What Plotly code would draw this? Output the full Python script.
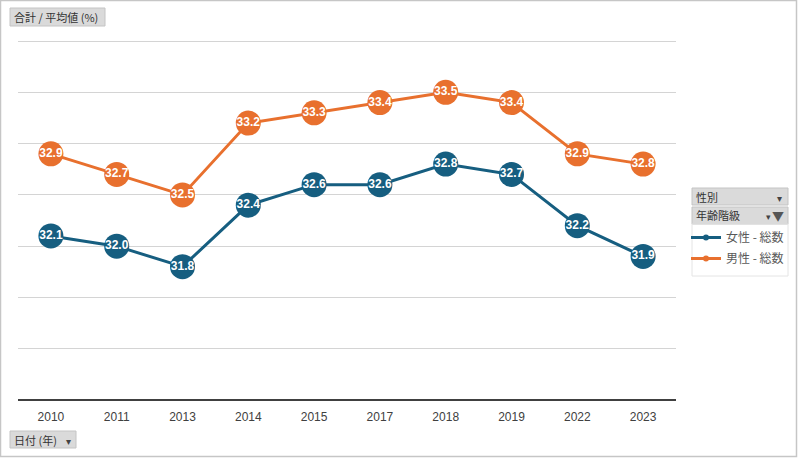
import plotly.graph_objects as go

# data
years = ["2010", "2011", "2013", "2014", "2015", "2017", "2018", "2019", "2022", "2023"]
female = [32.1, 32.0, 31.8, 32.4, 32.6, 32.6, 32.8, 32.7, 32.2, 31.9]
male = [32.9, 32.7, 32.5, 33.2, 33.3, 33.4, 33.5, 33.4, 32.9, 32.8]
series_names = ["女性 - 総数", "男性 - 総数"]
colors = ["#165e80", "#e8702e"]

W, H = 798, 458
L, R, T, B = 18, 676, 39, 400
YMIN, YMAX = 30.5, 34.02
JP = "Noto Sans CJK JP"


def px(x):
    return (x - L) / (R - L)


def py(y):
    return (B - y) / (B - T)


fig = go.Figure()
for name, vals, col in zip(series_names, [female, male], colors):
    fig.add_trace(go.Scatter(
        x=years, y=vals, name=name, legendgroup=name, showlegend=False,
        mode="lines+markers+text",
        text=[f"{v:.1f}" for v in vals],
        textposition="middle center",
        textfont=dict(family="Liberation Sans", size=12, color="white", weight="bold"),
        line=dict(color=col, width=3),
        marker=dict(color=col, size=25),
        cliponaxis=False,
        hoverinfo="skip",
    ))
    # legend entry only (small marker like the Excel legend)
    fig.add_trace(go.Scatter(
        x=[None], y=[None], name=name, legendgroup=name,
        mode="lines+markers",
        line=dict(color=col, width=3),
        marker=dict(color=col, size=6),
    ))


def button(x0, y0, x1, y1):
    return dict(type="rect", xref="paper", yref="paper",
                x0=px(x0), x1=px(x1), y0=py(y0), y1=py(y1),
                fillcolor="#dadada", line=dict(color="#c4c4c4", width=1), layer="below")


shapes = [
    # outer frame
    dict(type="rect", xref="paper", yref="paper", x0=px(0.5), x1=px(796.5),
         y0=py(0.5), y1=py(456.5), line=dict(color="#c6c6c6", width=1.5), layer="below"),
    button(10, 8, 105, 26),
    button(10, 431, 76, 448),
    button(692, 188, 788, 205),
    button(692, 207, 788, 224),
    # faint legend frame
    dict(type="rect", xref="paper", yref="paper", x0=px(692), x1=px(788),
         y0=py(224), y1=py(276), line=dict(color="#e4e4e4", width=1), layer="below"),
    # category axis line
    dict(type="line", xref="paper", yref="paper", x0=0, x1=1, y0=0, y1=0,
         line=dict(color="#404040", width=2)),
]


def label(text, x, y, size=11, color="#333333", anchor="left"):
    return dict(text=text, xref="paper", yref="paper", x=px(x), y=py(y),
                xanchor=anchor, yanchor="middle", showarrow=False,
                font=dict(family=JP, size=size, color=color))


annotations = [
    label("合計 / 平均値 (%)", 12, 17),
    label("日付 (年)", 12, 440),
    label("▾", 68, 440, size=10, color="#444444", anchor="center"),
    label("性別", 694, 197),
    label("▾", 779, 197, size=10, color="#444444", anchor="center"),
    label("年齢階級", 694, 215),
    label("▾", 768, 217, size=9, color="#444444", anchor="center"),
    label("▼", 778, 215, size=12, color="#555555", anchor="center"),
]

fig.update_layout(
    width=W, height=H,
    margin=dict(l=L, r=W - R, t=T, b=H - B, autoexpand=False),
    paper_bgcolor="white", plot_bgcolor="white",
    showlegend=True,
    legend=dict(x=px(686), y=py(223), xanchor="left", yanchor="top",
                font=dict(family=JP, size=12, color="#595959"),
                itemwidth=30, tracegroupgap=2,
                bgcolor="rgba(0,0,0,0)"),
    xaxis=dict(type="category", range=[-0.5, len(years) - 0.5],
               showgrid=False, zeroline=False, showline=False,
               ticks="outside", ticklen=6, tickcolor="rgba(0,0,0,0)",
               tickfont=dict(family="Liberation Sans", size=12, color="#404040")),
    yaxis=dict(range=[YMIN, YMAX], tick0=30.5, dtick=0.5, showticklabels=False,
               showgrid=True, gridcolor="#d4d4d4", gridwidth=1,
               zeroline=False, showline=False, ticks=""),
    shapes=shapes,
    annotations=annotations,
)

# drop the page's default body margin so the figure sits at the window origin
fig.write_html("out.html", config={"displayModeBar": False},
               post_script="document.body.style.margin='0';")
